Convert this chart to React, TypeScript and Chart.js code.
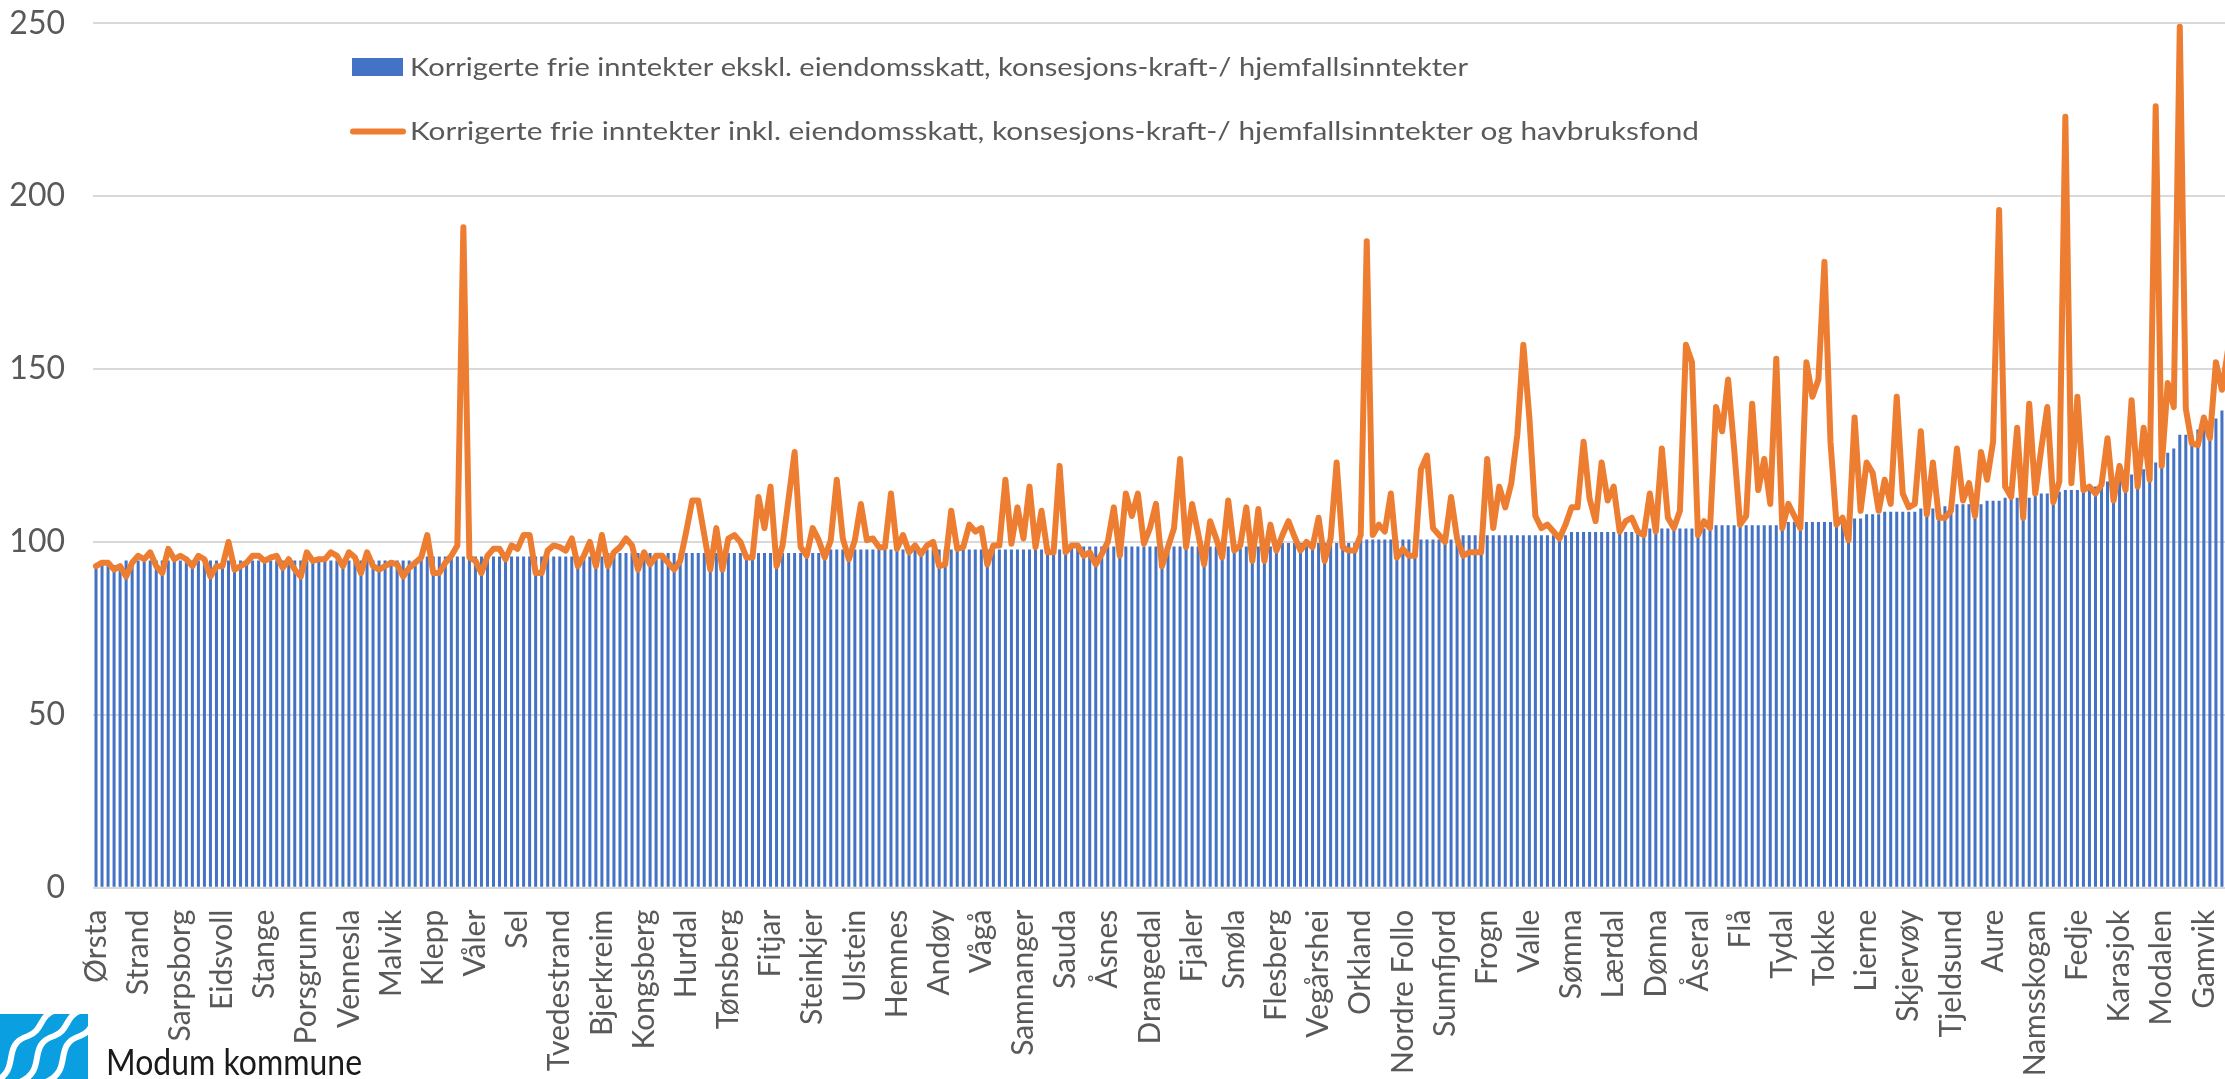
import React, { useEffect, useRef } from "react";
import { Chart, registerables } from "chart.js";

Chart.register(...registerables);

// Every 7th municipality is labelled on the axis (as in the reference)
const tickNames = [
  "Ørsta", "Strand", "Sarpsborg", "Eidsvoll", "Stange", "Porsgrunn", "Vennesla", "Malvik", "Klepp", "Våler",
  "Sel", "Tvedestrand", "Bjerkreim", "Kongsberg", "Hurdal", "Tønsberg", "Fitjar", "Steinkjer", "Ulstein", "Hemnes",
  "Andøy", "Vågå", "Samnanger", "Sauda", "Åsnes", "Drangedal", "Fjaler", "Smøla", "Flesberg", "Vegårshei",
  "Orkland", "Nordre Follo", "Sunnfjord", "Frogn", "Valle", "Sømna", "Lærdal", "Dønna", "Åseral", "Flå",
  "Tydal", "Tokke", "Lierne", "Skjervøy", "Tjeldsund", "Aure", "Namsskogan", "Fedje", "Karasjok", "Modalen",
  "Gamvik",
];
const LABEL_STEP = 7;

const seriesNames = [
  "Korrigerte frie inntekter ekskl. eiendomsskatt, konsesjons-kraft-/ hjemfallsinntekter",
  "Korrigerte frie inntekter inkl. eiendomsskatt, konsesjons-kraft-/ hjemfallsinntekter og havbruksfond",
];

const yTicks = [0, 50, 100, 150, 200, 250];

// Bars: corrected free income excl. property tax etc. (sorted ascending)
const barValues = [
  93.3, 93.3, 93.3, 93.3, 93.3, 94.6, 94.6, 94.6, 94.6, 94.6,
  94.6, 94.6, 94.6, 94.6, 94.6, 94.6, 94.6, 94.6, 94.6, 94.6,
  94.6, 94.6, 94.6, 94.6, 94.6, 94.6, 94.6, 94.6, 94.6, 94.6,
  94.6, 94.6, 94.6, 94.6, 94.6, 94.6, 94.6, 94.6, 94.6, 94.6,
  94.6, 94.6, 94.6, 94.6, 94.6, 94.6, 94.6, 94.6, 94.6, 94.6,
  94.6, 94.6, 94.6, 94.6, 95.8, 95.8, 95.8, 95.8, 95.8, 95.8,
  95.8, 95.8, 95.8, 95.8, 95.8, 95.8, 95.8, 95.8, 95.8, 95.8,
  95.8, 95.8, 95.8, 95.8, 95.8, 95.8, 95.8, 95.8, 95.8, 95.8,
  95.8, 95.8, 95.8, 95.8, 95.8, 96.8, 96.8, 96.8, 96.8, 96.8,
  96.8, 96.8, 96.8, 96.8, 96.8, 96.8, 96.8, 96.8, 96.8, 96.8,
  96.8, 96.8, 96.8, 96.8, 96.8, 96.8, 96.8, 96.8, 96.8, 96.8,
  96.8, 96.8, 96.8, 96.8, 96.8, 96.8, 96.8, 96.8, 96.8, 96.8,
  96.8, 96.8, 97.8, 97.8, 97.8, 97.8, 97.8, 97.8, 97.8, 97.8,
  97.8, 97.8, 97.8, 97.8, 97.8, 97.8, 97.8, 97.8, 97.8, 97.8,
  97.8, 97.8, 97.8, 97.8, 97.8, 97.8, 97.8, 97.8, 97.8, 97.8,
  97.8, 97.8, 97.8, 97.8, 97.8, 97.8, 97.8, 97.8, 97.8, 97.8,
  97.8, 98.7, 98.7, 98.7, 98.7, 98.7, 98.7, 98.7, 98.7, 98.7,
  98.7, 98.7, 98.7, 98.7, 98.7, 98.7, 98.7, 98.7, 98.7, 98.7,
  98.7, 98.7, 98.7, 98.7, 98.7, 98.7, 98.7, 98.7, 98.7, 98.7,
  98.7, 98.7, 98.7, 98.7, 98.7, 98.7, 99.7, 99.7, 99.7, 99.7,
  99.7, 99.7, 99.7, 99.7, 99.7, 99.7, 99.7, 99.7, 99.7, 99.7,
  100.7, 100.7, 100.7, 100.7, 100.7, 100.7, 100.7, 100.7, 100.7, 100.7,
  100.7, 100.7, 100.7, 100.7, 100.7, 100.7, 100.7, 101.9, 101.9, 101.9,
  101.9, 101.9, 101.9, 101.9, 101.9, 101.9, 101.9, 101.9, 101.9, 101.9,
  101.9, 101.9, 101.9, 101.9, 101.9, 102.9, 102.9, 102.9, 102.9, 102.9,
  102.9, 102.9, 102.9, 102.9, 102.9, 102.9, 102.9, 102.9, 103.9, 103.9,
  103.9, 103.9, 103.9, 103.9, 103.9, 103.9, 103.9, 103.9, 103.9, 104.8,
  104.8, 104.8, 104.8, 104.8, 104.8, 104.8, 104.8, 104.8, 104.8, 104.8,
  104.8, 105.8, 105.8, 105.8, 105.8, 105.8, 105.8, 105.8, 105.8, 106.8,
  106.8, 106.8, 106.8, 106.8, 108, 108, 108, 108.7, 108.7, 108.7,
  108.7, 108.7, 108.7, 109.7, 109.7, 109.7, 109.7, 110.3, 110.3, 110.9,
  110.9, 110.9, 110.9, 110.9, 111.9, 111.9, 111.9, 112.8, 112.8, 112.8,
  112.8, 112.8, 114, 114, 114, 114, 114.5, 115, 115, 115,
  115, 116, 116, 116.5, 117.5, 118, 118.5, 119, 119.5, 120,
  121, 122, 123, 124, 125.8, 127, 131, 131, 131, 132.5,
  133, 134, 135.7, 138, 157, 160,
];

// Line: corrected free income incl. property tax, concession power and aquaculture fund
const lineValues = [
  93, 94, 94, 92, 93, 90, 94, 96, 95, 97,
  93, 91, 98, 95, 96, 95, 93, 96, 95, 90,
  93, 93, 100, 92, 93, 94, 96, 96, 94.5, 95.5,
  96, 92.5, 95, 92, 90, 97, 94.5, 95, 95, 97,
  96, 93, 97, 95.5, 91, 97, 93, 92, 93, 94,
  93.5, 90, 92.5, 94, 95.5, 102, 91, 91, 94, 96,
  99, 191, 95.5, 94.5, 91, 96, 98, 98, 95, 99,
  98, 102, 102, 91, 91, 97.5, 99, 98.5, 97.5, 101,
  93, 96, 100, 93, 102, 93, 97, 98.5, 101, 99,
  92, 97, 93.5, 96, 96, 94, 92, 94.5, 103, 112,
  112, 102, 92, 104, 92, 101, 102, 100, 95.5, 95.5,
  113, 104, 116, 93, 99, 112.5, 126, 98.5, 96, 104,
  100.5, 95.5, 100.5, 118, 101, 95, 100.5, 111, 100.5, 101,
  98.5, 98.5, 114, 98, 102, 97, 99, 96.5, 99, 100,
  93, 93.5, 109, 98, 98.5, 105, 103, 104, 93.5, 99,
  99, 118, 99.5, 110, 101, 116, 98.5, 109, 97, 97,
  122, 97, 99, 99, 96, 97, 93.5, 96.5, 100, 110,
  96, 114, 107.5, 114, 99.5, 104, 111, 93, 98.5, 104,
  124, 98.5, 111, 102.5, 93.5, 106, 101, 95.5, 112, 97.5,
  99, 110, 94.5, 109.5, 94.5, 105, 97.5, 102, 106, 101.5,
  97.5, 100, 98.5, 107, 94.5, 101, 123, 98.5, 97.5, 97.5,
  102, 187, 102, 105, 103, 114, 95.5, 98, 96, 96,
  121, 125, 104, 102, 100, 113, 101, 96, 97, 97,
  97, 124, 104, 116, 110, 117, 131, 157, 136, 107.5,
  104, 105, 103, 101, 105, 110, 110, 129, 112.5, 106,
  123, 112, 116, 103, 106, 107, 103, 102, 114, 103,
  127, 107, 104, 109, 157, 152, 102, 106, 104, 139,
  132, 147, 127, 105, 107.5, 140, 115, 124, 111, 153,
  104, 111, 107.5, 104, 152, 142, 147, 181, 129, 105,
  107, 100.5, 136, 109, 123, 120, 109, 118, 111, 142,
  114, 110, 111, 132, 108, 123, 107, 107, 109, 127,
  112, 117, 107.5, 126, 118, 129, 196, 116, 113, 133,
  107, 140, 114, 127, 139, 111.5, 117.5, 223, 117, 142,
  115, 116, 114, 116.5, 130, 112, 122, 115, 141, 116,
  133, 118, 226, 122, 146, 139, 249, 138.5, 128.5, 128,
  136, 130, 152, 144, 155.5, 157,
];

const categories = barValues.map((_, i) =>
  i % LABEL_STEP === 0 ? tickNames[i / LABEL_STEP] ?? "" : ""
);

const BAR_COLOR = "#4472C4";
const LINE_COLOR = "#ED7D31";
const TEXT_COLOR = "#595959";
const FONT = "Lato";

function drawFittedText(ctx: CanvasRenderingContext2D, text: string, x: number, baseline: number, font: string, targetWidth: number, color: string) {
  ctx.save();
  ctx.font = font;
  ctx.fillStyle = color;
  ctx.textBaseline = "alphabetic";
  ctx.textAlign = "left";
  const w = ctx.measureText(text).width || 1;
  ctx.translate(x, baseline);
  ctx.scale(targetWidth / w, 1);
  ctx.fillText(text, 0, 0);
  ctx.restore();
}

const overlayPlugin = {
  id: "excelOverlay",
  afterDraw(chart: any) {
    const ctx: CanvasRenderingContext2D = chart.ctx;
    const ds = chart.data.datasets;
    // legend item 1 (bar)
    ctx.save();
    ctx.fillStyle = ds[0].backgroundColor;
    ctx.fillRect(352, 58, 51, 18);
    ctx.restore();
    drawFittedText(ctx, ds[0].label, 410, 76, `25px ${FONT}`, 1058, TEXT_COLOR);
    // legend item 2 (line)
    ctx.save();
    ctx.strokeStyle = ds[1].borderColor;
    ctx.lineWidth = 6;
    ctx.lineCap = "round";
    ctx.beginPath();
    ctx.moveTo(353, 131.5);
    ctx.lineTo(403, 131.5);
    ctx.stroke();
    ctx.restore();
    drawFittedText(ctx, ds[1].label, 410, 140, `25px ${FONT}`, 1289, TEXT_COLOR);

    // Modum kommune logo (bottom-left)
    ctx.save();
    ctx.fillStyle = "#0A9FE0";
    ctx.beginPath();
    ctx.moveTo(0, 1014);
    ctx.lineTo(88, 1014);
    ctx.lineTo(88, 1079);
    ctx.lineTo(0, 1079);
    ctx.closePath();
    ctx.fill();
    ctx.strokeStyle = "#ffffff";
    ctx.lineWidth = 6;
    ctx.lineCap = "butt";
    for (let k = 0; k < 3; k++) {
      const ox = k * 26 - 6;
      ctx.beginPath();
      ctx.moveTo(ox, 1082);
      ctx.bezierCurveTo(ox + 28, 1070, ox + 6, 1045, ox + 34, 1036);
      ctx.bezierCurveTo(ox + 50, 1030, ox + 44, 1016, ox + 62, 1010);
      ctx.stroke();
    }
    ctx.restore();
    drawFittedText(ctx, "Modum kommune", 106, 1075, `36px ${FONT}`, 256, "#1a1a1a");
  },
};

export default function App() {
  const canvasRef = useRef<HTMLCanvasElement | null>(null);

  useEffect(() => {
    let chart: Chart | null = null;
    let cancelled = false;
    const build = () => {
      if (cancelled || !canvasRef.current) return;
      chart = new Chart(canvasRef.current, {
        type: "bar",
        data: {
          labels: categories,
          datasets: [
            {
              type: "bar",
              label: seriesNames[0],
              data: barValues,
              backgroundColor: BAR_COLOR,
              barPercentage: 0.5,
              categoryPercentage: 1,
              order: 1,
            },
            {
              type: "line",
              label: seriesNames[1],
              data: lineValues,
              borderColor: LINE_COLOR,
              backgroundColor: LINE_COLOR,
              borderWidth: 6,
              pointRadius: 0,
              tension: 0,
              borderJoinStyle: "round",
              borderCapStyle: "round",
              order: 0,
            },
          ],
        } as any,
        options: {
          responsive: false,
          animation: false,
          devicePixelRatio: 1,
          layout: { padding: { top: 23.3, right: 0, bottom: 0, left: 0 } },
          plugins: { legend: { display: false }, tooltip: { enabled: false } },
          scales: {
            x: {
              grid: { display: false },
              border: { display: false },
              ticks: {
                autoSkip: false,
                minRotation: 90,
                maxRotation: 90,
                padding: 14,
                color: TEXT_COLOR,
                font: { family: FONT, size: 30 },
                callback: (_v: any, i: number) => categories[i],
              },
              afterFit: (s: any) => {
                s.height = 191.3;
                s.paddingLeft = 0;
                s.paddingRight = 0;
              },
            },
            y: {
              min: yTicks[0],
              max: yTicks[yTicks.length - 1],
              afterBuildTicks: (s: any) => {
                s.ticks = yTicks.map((v) => ({ value: v }));
              },
              ticks: {
                padding: 28,
                color: TEXT_COLOR,
                font: { family: FONT, size: 32 },
              },
              grid: { color: "#D9D9D9", lineWidth: 2, drawTicks: false },
              border: { display: false },
              afterFit: (s: any) => {
                s.width = 93;
                s.paddingTop = 0;
                s.paddingBottom = 0;
              },
            },
          },
        } as any,
        plugins: [overlayPlugin],
      });
    };
    const fontsReady = (document as any).fonts
      ? Promise.all([
          (document as any).fonts.load(`30px ${FONT}`),
          (document as any).fonts.load(`25px ${FONT}`),
        ]).catch(() => null)
      : Promise.resolve(null);
    fontsReady.then(build);
    return () => {
      cancelled = true;
      if (chart) chart.destroy();
    };
  }, []);

  return (
    <div
      style={{
        position: "fixed",
        left: 0,
        top: 0,
        width: 2225,
        height: 1079,
        overflow: "hidden",
        background: "#ffffff",
      }}
    >
      <canvas
        ref={canvasRef}
        width={2237}
        height={1079}
        style={{ display: "block", width: 2237, height: 1079 }}
      />
    </div>
  );
}
